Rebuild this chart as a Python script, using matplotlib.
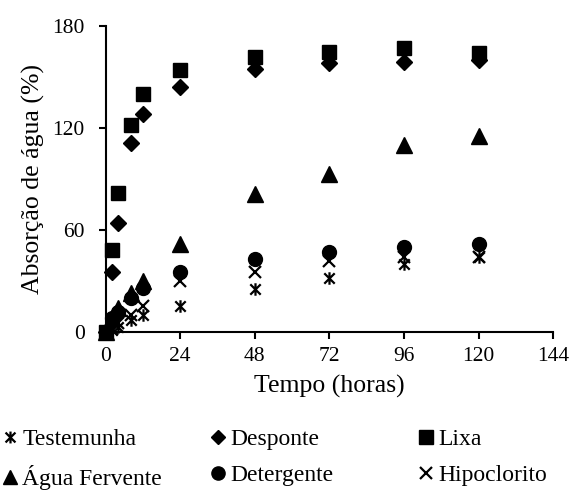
import numpy as np
import matplotlib
matplotlib.use("Agg")
import matplotlib.pyplot as plt
from matplotlib.path import Path

plt.rcParams['font.family'] = ['Liberation Serif', 'DejaVu Serif']

# tempo (horas)
tempo = [0, 2, 4, 8, 12, 24, 48, 72, 96, 120]

testemunha = [0, 1, 3, 7, 10, 15, 25, 32, 40, 44]
desponte = [0, 35, 64, 111, 128, 144, 155, 158, 159, 160]
lixa = [0, 48, 82, 122, 140, 154, 162, 165, 167, 164]
agua_fervente = [0, 8, 14, 23, 30, 52, 81, 93, 110, 115]
detergente = [0, 8, 12, 20, 26, 35, 43, 47, 50, 52]
hipoclorito = [0, 2, 5, 10, 15, 30, 35, 42, 44, 44]

# asterisco estilo excel (X com barra vertical)
asterisco = Path([(-1, -1), (1, 1), (-1, 1), (1, -1), (0, -1.2), (0, 1.2)],
                 [Path.MOVETO, Path.LINETO, Path.MOVETO, Path.LINETO,
                  Path.MOVETO, Path.LINETO])

fig = plt.figure(figsize=(5.71, 4.91), dpi=100)
ax = fig.add_axes([0.185, 0.324, 0.784, 0.623])

kw = dict(linestyle='none', color='black', clip_on=False)
h1, = ax.plot(tempo, testemunha, marker=asterisco, ms=9, mew=1.6, label='Testemunha', **kw)
h2, = ax.plot(tempo, desponte, marker='D', ms=8, label='Desponte', **kw)
h3, = ax.plot(tempo, lixa, marker='s', ms=10, label='Lixa', **kw)
h4, = ax.plot(tempo, agua_fervente, marker='^', ms=11, label='Água Fervente', **kw)
h5, = ax.plot(tempo, detergente, marker='o', ms=10, label='Detergente', **kw)
h6, = ax.plot(tempo, hipoclorito, marker='x', ms=9, mew=1.6, label='Hipoclorito', **kw)

ax.set_xlim(0, 144)
ax.set_ylim(0, 180)
ax.set_xticks(np.arange(0, 145, 24))
ax.set_yticks(np.arange(0, 181, 60))
for s in ['top', 'right']:
    ax.spines[s].set_visible(False)
for s in ['left', 'bottom']:
    ax.spines[s].set_linewidth(1.5)
ax.tick_params(direction='out', length=5, width=1.5, labelsize=15.5)
ax.tick_params(axis='y', pad=10)
ax.tick_params(axis='x', pad=6)
ax.set_xlabel('Tempo (horas)', fontsize=18.5, labelpad=6)
ax.set_ylabel('Absorção de água (%)', fontsize=18.5, labelpad=5)

# legenda em tres colunas
colunas = [(h1, h4), (h2, h5), (h3, h6)]
xs = [0.002, 0.366, 0.730]
for hs, x in zip(colunas, xs):
    fig.legend(handles=list(hs), labels=[h.get_label() for h in hs],
               loc='upper left', bbox_to_anchor=(x, 0.127), frameon=False,
               fontsize=17, markerscale=0.95, handlelength=0.75, handletextpad=0.15,
               labelspacing=0.62, borderpad=0, borderaxespad=0)

fig.savefig('out.png', dpi=100)
